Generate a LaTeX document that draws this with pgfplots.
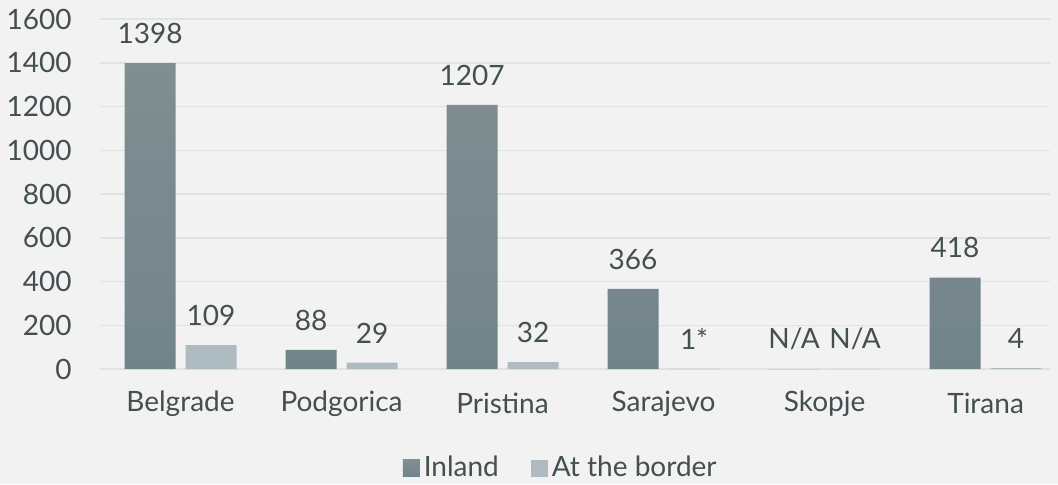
\documentclass[border=0pt]{standalone}
\usepackage{pgfplots}
\pgfplotsset{compat=1.18}
\usepackage{fontspec}
\setmainfont{Lato}
\definecolor{bg}{HTML}{F2F2F2}
\definecolor{txt}{HTML}{434F50}
\definecolor{inlandTop}{HTML}{818E92}
\definecolor{inlandBot}{HTML}{72838A}
\definecolor{border}{HTML}{AEBCC1}
\definecolor{gridc}{HTML}{DFE3E3}
\begin{document}
\begin{tikzpicture}
\fill[bg] (-50pt,-57.5pt) rectangle (479pt,184.5pt);
\begin{axis}[
  at={(0,0)}, anchor=south west,
  scale only axis, width=475pt, height=175pt,
  ymin=0, ymax=1600, ytick={0,200,...,1600},
  xmin=-0.5, xmax=5.4,
  xtick={0,1,2,3,4,5},
  xticklabels={Belgrade,Podgorica,Pristina,Sarajevo,Skopje,Tirana},
  ybar=5pt, bar width=25.5pt,
  axis line style={draw=none},
  tick style={draw=none},
  ymajorgrids=true, xmajorgrids=false,
  major grid style={draw=gridc, line width=0.75pt},
  font=\fontsize{14}{17}\selectfont\color{txt},
  /pgf/number format/assume math mode=true,
  /pgf/number format/1000 sep={},
  yticklabel style={anchor=east, inner sep=0pt, xshift=-14pt},
  xticklabel style={anchor=center, inner sep=0pt, yshift=-13pt},
  point meta=explicit symbolic,
  nodes near coords,
  nodes near coords style={anchor=south, inner sep=0pt, yshift=9.5pt, font=\fontsize{14}{17}\selectfont\color{txt}},
  legend style={draw=none, fill=none, at={(0.486,-49.5pt)}, anchor=center,
    legend columns=2, font=\fontsize{14}{17}\selectfont\color{txt},
    /tikz/every even column/.append style={column sep=14pt},
    inner sep=0pt},
  legend image code/.code={\fill[#1] (0pt,-4.25pt) rectangle (8.5pt,4.25pt);},
  clip=false,
]
\addplot[draw=none, top color=inlandTop, bottom color=inlandBot] coordinates {
  (0,1398) [1398] (1,88) [88] (2,1207) [1207] (3,366) [366] (4,0) [N/A] (5,418) [418]};
\addplot[draw=none, fill=border] coordinates {
  (0,109) [109] (1,29) [29] (2,32) [32] (3,1) [1*] (4,0) [N/A] (5,4) [4]};
\legend{Inland, At the border}
\end{axis}
\end{tikzpicture}
\end{document}
